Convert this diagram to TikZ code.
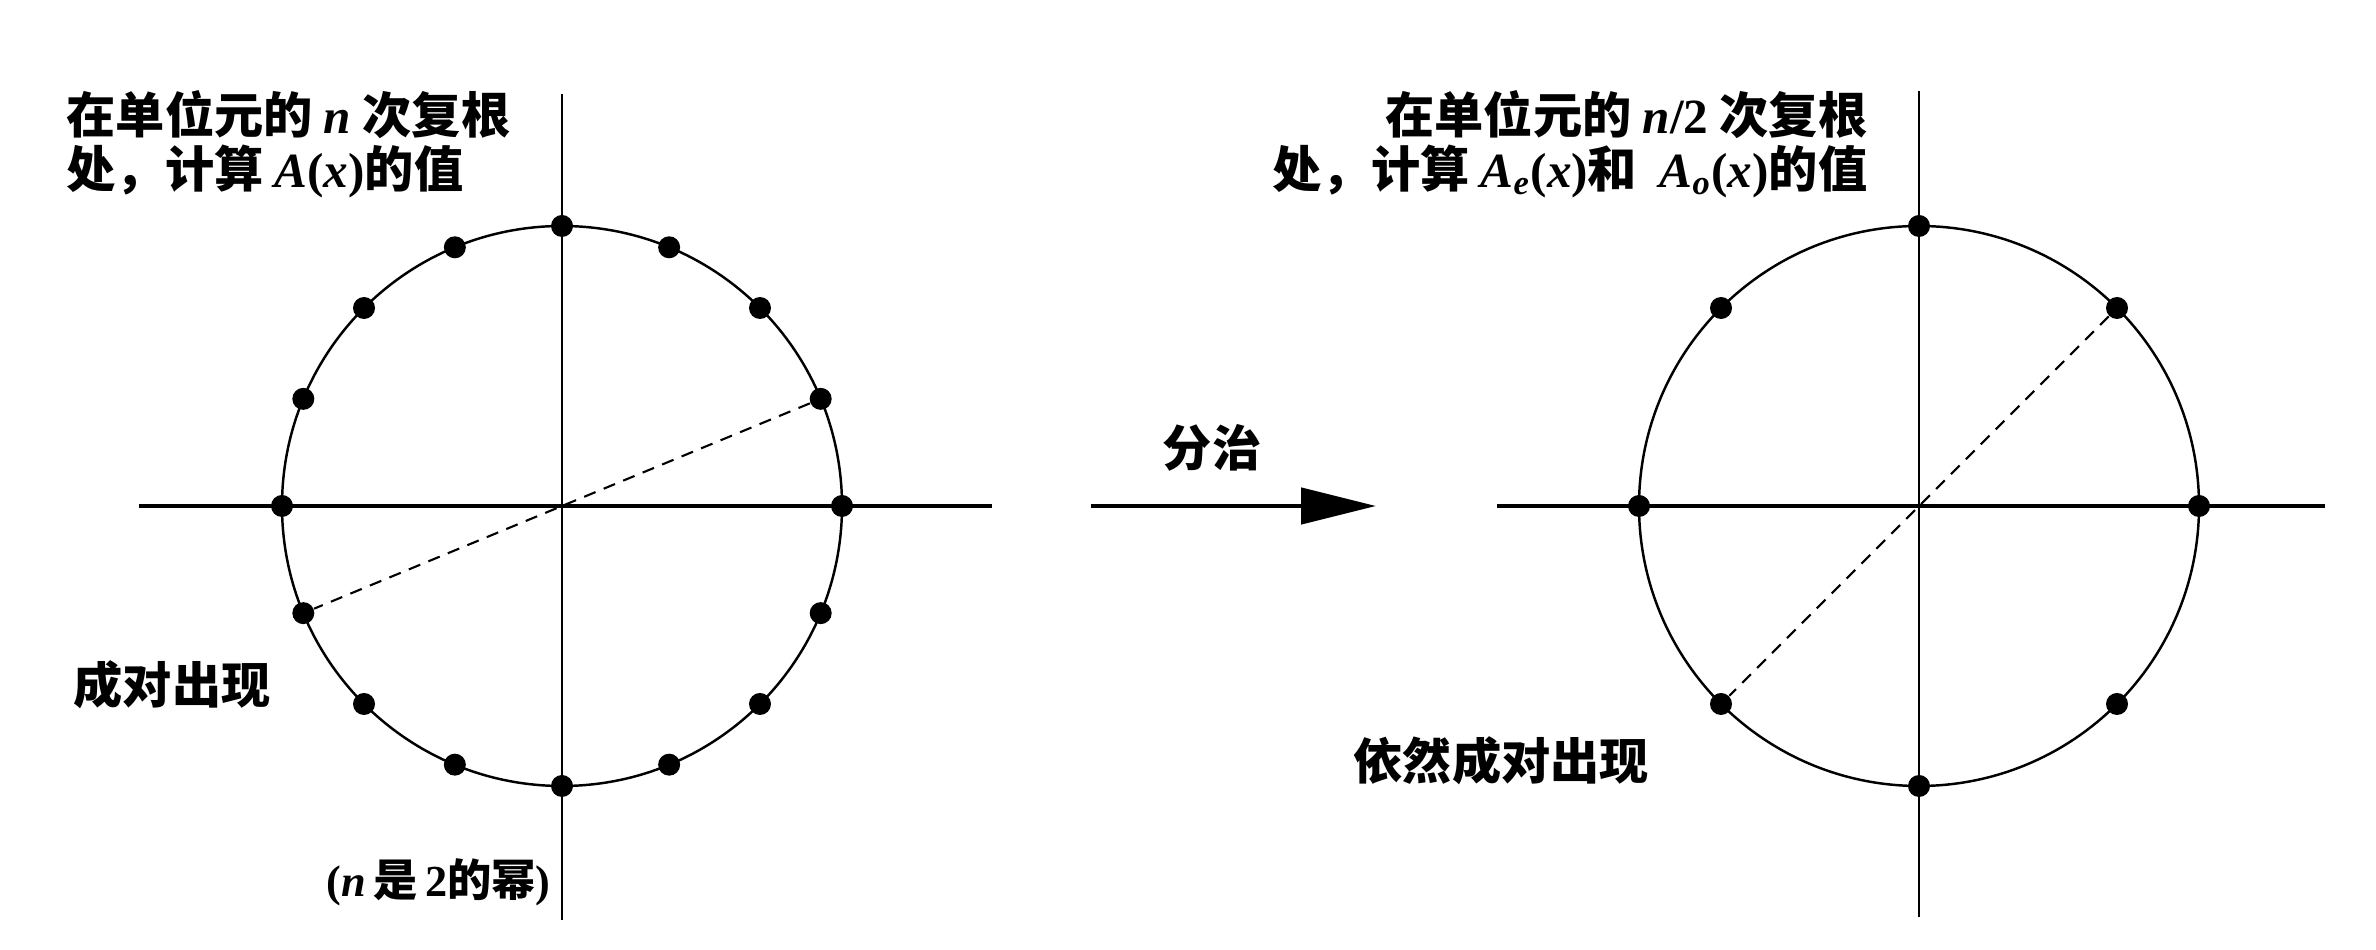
\documentclass[tikz,border=0pt]{standalone}
\usepackage{fontspec}
\usepackage{tikz}
\usetikzlibrary{arrows.meta, calc}
\setmainfont{Liberation Serif}
\newfontfamily\cjk{Noto Sans CJK SC}
\newcommand{\bi}[1]{{\rmfamily\bfseries\itshape #1}}
\newcommand{\lat}[1]{{\rmfamily\bfseries #1}}

\begin{document}
\begin{tikzpicture}[every node/.style={font=\fontsize{14}{15.2}\selectfont\cjk\bfseries, inner sep=0pt},
        dot/.style={circle, fill=black, inner sep=0pt, minimum size=2.2mm},
        axis/.style={line width=0.8pt},
        ring/.style={line width=0.7pt},
        pair/.style={line width=0.6pt, dash pattern=on 3.5pt off 2.5pt}]
        \useasboundingbox (0,0) rectangle (23.76,9.50);

        % left: n-th roots
        \coordinate (LO) at (5.62,4.44);
        \coordinate (LT) at (5.62,8.56);
        \coordinate (LB) at (5.62,0.30);
        \coordinate (LW) at (1.39,4.44);
        \coordinate (LE) at (9.92,4.44);
        \draw[axis] (LT) -- (LB);
        \draw[axis, line width=1pt] (LW) -- (LE);
        \draw[ring] (LO) circle (2.8);
        \foreach \i in {0,...,15}
            \node[dot] (l\i) at ($(LO)+(\i*22.5:2.8)$) {};
        \draw[pair] (l1) -- (l9);

        % right: n/2-th roots
        \coordinate (RO) at (19.19,4.44);
        \coordinate (RT) at (19.19,8.59);
        \coordinate (RB) at (19.19,0.33);
        \coordinate (RW) at (14.97,4.44);
        \coordinate (RE) at (23.25,4.44);
        \draw[axis] (RT) -- (RB);
        \draw[axis, line width=1pt] (RW) -- (RE);
        \draw[ring] (RO) circle (2.8);
        \foreach \i in {0,...,7}
            \node[dot] (r\i) at ($(RO)+(\i*45:2.8)$) {};
        \draw[pair] (r1) -- (r5);

        % arrow
        \coordinate (A1) at (10.91,4.44);
        \coordinate (A2) at (13.76,4.44);
        \draw[line width=1.3pt, -{Triangle[length=7.5mm, width=3.6mm]}] (A1) -- (A2);
        \node (split) at (12.12,5.02) {分治};

        % labels
        \node[anchor=north west, align=left] (ltext) at (0.66,8.60)
            {在单位元的 \bi{n} 次复根\\处，计算 \bi{A}\lat{(}\bi{x}\lat{)}的值};
        \node[anchor=west] (lpair) at (0.73,2.65) {成对出现};
        \node[anchor=west, font=\fontsize{12.6}{14}\selectfont\cjk\bfseries] (lnote) at (3.26,0.68)
            {\lat{(}\bi{n}\,是\,\lat{2}的幂\lat{)}};
        \node[anchor=north east, align=right] (rtext) at (18.68,8.60)
            {在单位元的 \bi{n}\lat{/2} 次复根\\处，计算 \bi{A}\textsubscript{\bi{e}}\lat{(}\bi{x}\lat{)}和~~\bi{A}\textsubscript{\bi{o}}\lat{(}\bi{x}\lat{)}的值};
        \node[anchor=west] (rpair) at (13.53,1.89) {依然成对出现};
\end{tikzpicture}
\end{document}
